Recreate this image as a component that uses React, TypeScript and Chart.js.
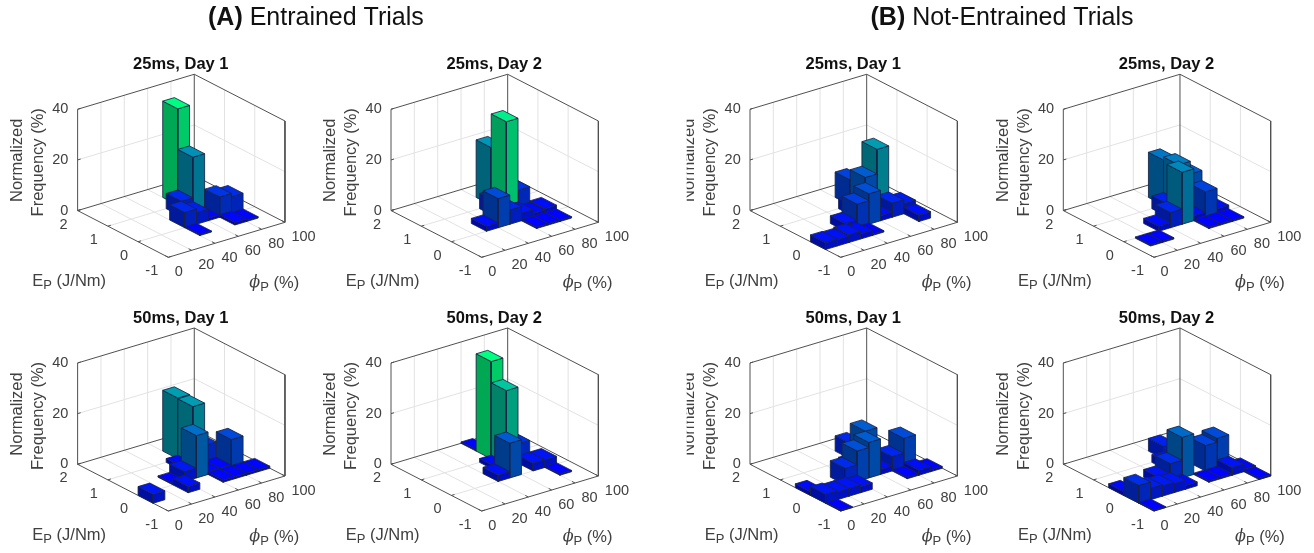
import React, { useEffect, useRef } from "react";
import { Chart, registerables } from "chart.js";

Chart.register(...registerables);

// ---- data: each bar is [phi bin start (%), E bin start (J/Nm), normalized frequency (%)]
const phiTicks = [0, 20, 40, 60, 80, 100];
const energyTicks = [-1, 0, 1, 2];
const freqTicks = [0, 20, 40];
const phiBinWidth = 10;
const energyBinWidth = 0.5;

const entrained25Day1 = [[60,1,38],[60,0.5,22],[40,0,6],[50,0.5,6],[50,0,4.5],[70,0,8],[80,0,6.7],[40,-0.5,0.4],[70,-0.5,1],[80,-0.5,0.5],[60,0,1]];
const entrained25Day2 = [[60,0.5,36],[60,1,22.7],[40,0,11.5],[50,0.5,6],[50,0,5.6],[60,0,3],[70,0,1.5],[70,0.5,7.6],[30,0,2],[60,-0.5,0.5],[70,-0.5,0.5],[80,-0.5,0.5],[80,0,2]];
const entrained50Day1 = [[60,1,24],[60,0.5,23.7],[50,0,16.7],[80,0,11],[70,0.5,7],[40,0,3.8],[50,0.5,1.5],[30,0,0.5],[30,-0.5,2.5],[0,-0.5,3.5],[60,-0.5,0.8],[70,-0.5,0.8],[80,-0.5,0.8],[90,-0.5,0.8],[70,0,1],[60,0,1]];
const entrained50Day2 = [[60,1,38.4],[60,0.5,30],[50,0,13.7],[70,0.5,7.6],[40,0,2.5],[50,0.5,1.5],[60,1.5,0.5],[80,0,3],[70,0,3],[80,-0.5,0.5]];
const notEntrained25Day1 = [[70,0.5,23.7],[60,0.5,14],[60,1,10],[50,0,12],[40,0,9.3],[50,0.5,4],[70,0,5.5],[80,0,4],[80,-0.5,2.5],[60,0,2],[30,0,3],[0,-0.5,2.7],[10,-0.5,2.5],[20,-0.5,3],[30,-0.5,2],[40,-0.5,0.5]];
const notEntrained25Day2 = [[50,0,20.5],[60,1,17.8],[60,0.5,19],[70,0.5,14],[70,0,10],[40,0,6],[50,0.5,5],[30,0,2],[20,-0.5,0.5],[10,-0.5,0.5],[60,-0.5,0.5],[70,-0.5,0.5],[80,-0.5,0.5],[80,0,2],[60,0,2]];
const notEntrained50Day1 = [[60,0.5,14],[50,0,14],[40,0,12],[60,1,6],[30,0,6.5],[80,0,11.5],[70,0,5.6],[50,0.5,2],[60,0,2],[70,-0.5,0.5],[80,-0.5,2],[90,-0.5,0.7],[0,0,1.5],[0,-0.5,3.5],[10,-0.5,3],[20,-0.5,3],[30,-0.5,2.5],[0,-1,0.3]];
const notEntrained50Day2 = [[50,0,16],[40,0,7],[60,1,5],[50,0.5,3],[70,0,10],[80,0,11.5],[60,0.5,3],[80,-0.5,3],[70,-0.5,0.5],[60,-0.5,0.5],[90,-0.5,1],[90,-1,0.5],[0,0,1.5],[0,-0.5,7],[10,-0.5,4.5],[20,-0.5,4],[30,-0.5,3.5],[40,-0.5,1.5],[30,0,3],[0,-1,0.3]];

const titleEntrained = ["(A)", " Entrained Trials"];
const titleNotEntrained = ["(B)", " Not-Entrained Trials"];
const panelTitles = ["25ms, Day 1", "25ms, Day 2", "50ms, Day 1", "50ms, Day 2"];
const panelBars = [entrained25Day1, entrained25Day2, entrained50Day1, entrained50Day2, notEntrained25Day1, notEntrained25Day2, notEntrained50Day1, notEntrained50Day2];

// ---- layout of the projection
const originsX = [168.3, 481.7, 168.3, 481.7, 840.7, 1154, 840.7, 1154];
const originsY = [257.3, 257.3, 511, 511, 257.3, 257.3, 511, 511];
const PHI_X = 7 / 6, PHI_Y = -0.35, E_X = -30.23, E_Y = -15.57, Z_Y = -2.533;
const FONT = '"Liberation Sans", Arial, sans-serif';
const INK = "#404040";

type Pt = { x: number; y: number };

function project(p: number, px: number, e: number, z: number): Pt {
  const ox = originsX[p], oy = originsY[p];
  return {
    x: ox + px * PHI_X + (e + 1) * E_X,
    y: oy + px * PHI_Y + (e + 1) * E_Y + z * Z_Y,
  };
}

const lineDs = (pts: Pt[], color: string, width = 1) => ({
  type: "line" as const,
  data: pts,
  borderColor: color,
  borderWidth: width,
  pointRadius: 0,
  tension: 0,
  fill: false,
  clip: false,
});

const polyDs = (pts: Pt[], fillColor: string) => ({
  type: "line" as const,
  data: [...pts, pts[0]],
  borderColor: "rgba(25,35,70,0.85)",
  borderWidth: 1,
  backgroundColor: fillColor,
  pointRadius: 0,
  tension: 0,
  fill: "shape",
  clip: false,
});

function shade(z: number, k: number) {
  const t = Math.min(1, z / 38.4);
  return `rgb(0,${Math.round(255 * t * k)},${Math.round((255 - 127 * t) * k)})`;
}

function buildDatasets() {
  const out: any[] = [];
  panelBars.forEach((bars, p) => {
    const P = (a: number, e: number, z: number) => project(p, a, e, z);
    const grid = "#e2e2e2", box = "#505050";
    // wall and floor grid
    phiTicks.slice(1, -1).forEach((a) => {
      out.push(lineDs([P(a, -1, 0), P(a, 2, 0), P(a, 2, 40)], grid));
    });
    energyTicks.slice(1, -1).forEach((e) => {
      out.push(lineDs([P(0, e, 0), P(100, e, 0), P(100, e, 40)], grid));
    });
    out.push(lineDs([P(0, 2, 20), P(100, 2, 20), P(100, -1, 20)], grid));
    // box
    out.push(lineDs([P(0, 2, 40), P(100, 2, 40), P(100, -1, 40), P(100, -1, 0), P(0, -1, 0), P(0, 2, 0), P(0, 2, 40)], box));
    out.push(lineDs([P(0, 2, 0), P(100, 2, 0), P(100, -1, 0)], box));
    out.push(lineDs([P(100, 2, 0), P(100, 2, 40)], box));
    // ticks
    phiTicks.forEach((a) => out.push(lineDs([P(a, -1, 0), P(a, -0.9, 0)], box)));
    energyTicks.forEach((e) => out.push(lineDs([P(0, e, 0), P(2.6, e, 0)], box)));
    freqTicks.forEach((z) => out.push(lineDs([P(0, 2, z), P(2.6, 2, z)], box)));
    // bars, back to front
    const sorted = [...bars].sort((m, n) => n[0] / phiBinWidth + n[1] / energyBinWidth - (m[0] / phiBinWidth + m[1] / energyBinWidth));
    sorted.forEach(([a, e, z]) => {
      const a2 = a + phiBinWidth, e2 = e + energyBinWidth;
      out.push(polyDs([P(a, e, 0), P(a, e2, 0), P(a, e2, z), P(a, e, z)], shade(z, 0.66)));
      out.push(polyDs([P(a, e, 0), P(a2, e, 0), P(a2, e, z), P(a, e, z)], shade(z, 0.8)));
      out.push(polyDs([P(a, e, z), P(a2, e, z), P(a2, e2, z), P(a, e2, z)], shade(z, 1)));
    });
  });
  // Chart.js paints the first dataset last
  return out.reverse();
}

const textPlugin = {
  id: "panelText",
  afterDraw(chart: any) {
    const ctx = chart.ctx as CanvasRenderingContext2D;
    ctx.save();
    ctx.textBaseline = "middle";
    const runs = (parts: [string, string, number][], x: number, y: number) => {
      let cx = x;
      parts.forEach(([t, f, dy]) => {
        ctx.font = f;
        ctx.fillText(t, cx, y + dy);
        cx += ctx.measureText(t).width;
      });
    };
    // main headings
    ctx.fillStyle = "#111";
    ctx.textAlign = "left";
    runs([[titleEntrained[0], `bold 25px ${FONT}`, 0], [titleEntrained[1], `25px ${FONT}`, 0]], 208, 18.5);
    runs([[titleNotEntrained[0], `bold 25px ${FONT}`, 0], [titleNotEntrained[1], `25px ${FONT}`, 0]], 870.5, 18.5);

    panelBars.forEach((_, p) => {
      const ox = originsX[p], oy = originsY[p];
      ctx.fillStyle = "#111";
      ctx.textAlign = "center";
      ctx.font = `bold 16.5px ${FONT}`;
      ctx.fillText(panelTitles[p % 4], ox + 12.5, oy - 193);

      ctx.fillStyle = INK;
      ctx.font = `14.5px ${FONT}`;
      ctx.textAlign = "right";
      freqTicks.forEach((z) => {
        const q = project(p, 0, 2, z);
        ctx.fillText(String(z), q.x - 9.3, q.y);
      });
      ctx.textAlign = "center";
      energyTicks.forEach((e) => {
        const q = project(p, 0, e, 0);
        ctx.fillText(String(e), q.x - (e < 0 ? 16.5 : 14), q.y + 14);
      });
      ctx.textAlign = "left";
      phiTicks.forEach((a) => {
        const q = project(p, a, -1, 0);
        ctx.fillText(String(a), q.x + 6.5, q.y + 14.5);
      });
      const lab = `16.5px ${FONT}`, sub = `13px ${FONT}`;
      runs([["E", lab, 0], ["P", sub, 4], [" (J/Nm)", lab, 0]], ox - 136, oy + 24);
      runs([["\u03d5", `italic 16px "DejaVu Serif", serif`, 0], ["P", sub, 4], [" (%)", lab, 0]], ox + 81, oy + 26);

      // rotated z label; the first line is cut off in the left column of group B
      ctx.save();
      if (p === 4 || p === 6) {
        ctx.beginPath();
        ctx.rect(ox - 154, oy - 200, 300, 220);
        ctx.clip();
      }
      ctx.textAlign = "center";
      ctx.font = lab;
      ctx.translate(ox - 151, oy - 97);
      ctx.rotate(-Math.PI / 2);
      ctx.fillText("Normalized", 0, 0);
      ctx.restore();
      ctx.save();
      ctx.textAlign = "center";
      ctx.font = lab;
      ctx.translate(ox - 130, oy - 95);
      ctx.rotate(-Math.PI / 2);
      ctx.fillText("Frequency (%)", 0, 0);
      ctx.restore();
    });
    ctx.restore();
  },
};

export default function App() {
  const ref = useRef<HTMLCanvasElement>(null);
  useEffect(() => {
    const chart = new Chart(ref.current!, {
      type: "line",
      data: { datasets: buildDatasets() },
      options: {
        animation: false,
        responsive: false,
        devicePixelRatio: 1,
        layout: { padding: 0 },
        parsing: true,
        plugins: { legend: { display: false }, tooltip: { enabled: false }, title: { display: false } },
        scales: {
          x: { type: "linear", display: false, min: 0, max: 1314 },
          y: { type: "linear", display: false, min: 0, max: 553, reverse: true },
        },
      },
      plugins: [textPlugin],
    } as any);
    return () => chart.destroy();
  }, []);
  return (
    <div style={{ position: "fixed", left: 0, top: 0, width: 1314, height: 553, background: "#fff" }}>
      <canvas ref={ref} width={1314} height={553} style={{ display: "block" }} />
    </div>
  );
}
